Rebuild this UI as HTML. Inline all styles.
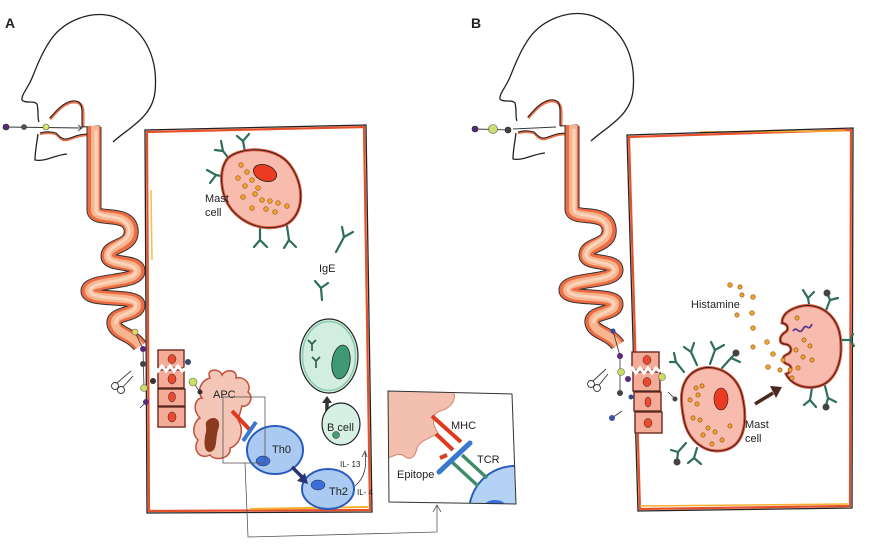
<!DOCTYPE html>
<html><head><meta charset="utf-8"><style>
html,body{margin:0;padding:0;background:#fff;}
svg{display:block;}
text{font-family:"Liberation Sans",sans-serif;fill:#222;}
</style></head><body>
<svg width="875" height="549" viewBox="0 0 875 549" xmlns="http://www.w3.org/2000/svg">
<rect width="875" height="549" fill="#fff"/>
<defs>
<clipPath id="ins"><path d="M388,391 L512,394 L516,504 L389,502 Z"/></clipPath>
<g id="hg">
 <path d="M113,142 C128,128 152,118 155,92 C158,62 148,30 115,17 C90,9 64,22 52,38 C42,52 37,66 32,78 C28,88 21,95 22,100 C25,104 34,100 37,104 C39,112 37,117 39,122" fill="none" stroke="#222" stroke-width="1.3"/>
 <path d="M38,134 C37,142 35,152 35,160 C45,162 55,155 67,154" fill="none" stroke="#222" stroke-width="1.3"/>
 <path d="M50,119 C58,110 63,104 72,102 C80,101 83,106 83,112 L83,127" fill="none" stroke="#ec7048" stroke-width="3"/>
 <path d="M50,118 C58,109 63,103 72,101 C80,100 82,105 82,111 L82,127" fill="none" stroke="#222" stroke-width="1.1"/>
 <path d="M40,134 C48,132 52,133 56,134 C60,138 63,142 70,139 C76,137 80,135 88,135" fill="none" stroke="#ec7048" stroke-width="2.5"/>
 <path d="M40,133 C48,131 52,132 56,133 C60,137 63,141 70,138 C76,136 80,134 88,134" fill="none" stroke="#222" stroke-width="1.1"/>
 <path d="M82,127 L100,126" stroke="#222" stroke-width="1.1"/>
 <!-- gut -->
 <path d="M94,127 L94,210 C94,222 128,210 131,229 C134,248 108,244 108,256 C108,266 138,260 138,271 C138,284 88,279 88,291 C88,302 138,294 138,305 C138,316 112,312 114,324 C116,334 132,334 140,346" fill="none" stroke="#333" stroke-width="15" stroke-linejoin="round"/>
 <path d="M94,126 L94,210 C94,222 128,210 131,229 C134,248 108,244 108,256 C108,266 138,260 138,271 C138,284 88,279 88,291 C88,302 138,294 138,305 C138,316 112,312 114,324 C116,334 132,334 140,346" fill="none" stroke="#ee6c44" stroke-width="13" stroke-linejoin="round"/>
 <path d="M95,126 L95,210 C95,221 127,211 130,229 C132,246 108,244 108,256 C108,266 137,261 137,271 C137,284 89,279 89,291 C89,302 137,294 137,305 C137,316 113,312 115,324 C117,334 132,334 140,346" fill="none" stroke="#f7b690" stroke-width="8" stroke-linejoin="round"/>
 <path d="M96,130 L96,210 C96,220 126,212 129,229 C131,244 108,244 108,256 C108,265 136,262 136,271 C136,283 90,280 90,291 C90,301 136,295 136,305 C136,315 114,313 116,324" fill="none" stroke="#fbd4bc" stroke-width="3" stroke-linejoin="round"/>
</g>
</defs>

<!-- Panel labels -->
<text x="5" y="28" font-size="14" font-weight="bold">A</text>
<text x="471" y="28" font-size="14" font-weight="bold">B</text>

<use href="#hg"/>
<use href="#hg" transform="translate(478,-1)"/>

<!-- mouth particles A -->
<line x1="6" y1="127" x2="82" y2="128" stroke="#333" stroke-width="0.9"/>
<path d="M78,125 L82,128 L78,131" fill="none" stroke="#333" stroke-width="0.8"/>
<circle cx="6" cy="127" r="3" fill="#5b2a7a" stroke="#222" stroke-width="0.6"/>
<circle cx="24" cy="127" r="2.5" fill="#555" stroke="#222" stroke-width="0.6"/>
<circle cx="46" cy="127" r="3" fill="#d6e86a" stroke="#555" stroke-width="0.6"/>
<!-- mouth particles B -->
<line x1="475" y1="129" x2="510" y2="130" stroke="#333" stroke-width="0.9"/>
<line x1="513" y1="129" x2="556" y2="127" stroke="#333" stroke-width="0.9"/>
<circle cx="475" cy="129" r="3" fill="#5b2a7a" stroke="#222" stroke-width="0.6"/>
<circle cx="493" cy="129" r="4.5" fill="#c8e070" stroke="#555" stroke-width="0.6"/>
<circle cx="508" cy="130" r="3" fill="#444" stroke="#222" stroke-width="0.6"/>

<!-- Box A -->
<path d="M147,132 L364,127 L370,510 L149,511 Z" fill="none" stroke="#e8502a" stroke-width="2.2"/>
<line x1="250" y1="509" x2="368" y2="507" stroke="#f5b030" stroke-width="2"/>
<line x1="151" y1="190" x2="152" y2="260" stroke="#f5c040" stroke-width="1.5"/>
<path d="M145,130 L366,125 L372,512 L147,513 Z" fill="none" stroke="#222" stroke-width="1.3"/>

<!-- Box B -->
<path d="M629,137 L851,130 L850,506 L640,509 Z" fill="none" stroke="#e8502a" stroke-width="2.2"/>
<line x1="700" y1="132" x2="845" y2="131" stroke="#f5b030" stroke-width="1.5"/>
<line x1="640" y1="506" x2="848" y2="504" stroke="#f5b030" stroke-width="1.5"/>
<path d="M627,135 L853,128 L852,508 L638,511 Z" fill="none" stroke="#222" stroke-width="1.3"/>

<!-- ========== Panel A cells ========== -->
<g stroke="#2f6e58" stroke-width="2.2" fill="none" stroke-linecap="round">
 <path d="M230,160 L223,151 M223,151 L215,150 M223,151 L221,141"/>
 <path d="M245,152 L243,141 M243,141 L237,136 M243,141 L249,134"/>
 <path d="M226,177 L216,175 M216,175 L207,170 M216,175 L210,183"/>
 <path d="M260,227 L260,240 M260,240 L254,247 M260,240 L267,247"/>
 <path d="M287,226 L289,240 M289,240 L284,248 M289,240 L296,247"/>
 <path d="M336,252 L344,237 M344,237 L342,227 M344,237 L353,232"/>
 <path d="M322,300 L321,288 M321,288 L315,281 M321,288 L328,283"/>
</g>
<path d="M228,158 C240,147 275,145 290,165 C305,185 305,215 285,225 C265,232 245,225 232,210 C220,195 218,170 228,158 Z" fill="#f7bcae" stroke="#e0553a" stroke-width="3"/>
<path d="M228,158 C240,147 275,145 290,165 C305,185 305,215 285,225 C265,232 245,225 232,210 C220,195 218,170 228,158 Z" fill="none" stroke="#222" stroke-width="0.9"/>
<ellipse cx="265" cy="173" rx="12" ry="8" transform="rotate(20 265 173)" fill="#ec3a22" stroke="#222" stroke-width="0.8"/>
<g fill="#f2a42a" stroke="#9a5a20" stroke-width="0.7">
 <circle cx="241" cy="165" r="2.3"/><circle cx="238" cy="178" r="2.3"/><circle cx="245" cy="186" r="2.3"/>
 <circle cx="252" cy="180" r="2.3"/><circle cx="243" cy="197" r="2.3"/><circle cx="255" cy="194" r="2.3"/>
 <circle cx="262" cy="200" r="2.3"/><circle cx="270" cy="201" r="2.3"/><circle cx="278" cy="203" r="2.3"/>
 <circle cx="287" cy="206" r="2.3"/><circle cx="266" cy="209" r="2.3"/><circle cx="252" cy="208" r="2.3"/>
 <circle cx="258" cy="188" r="2.3"/><circle cx="247" cy="172" r="2.3"/><circle cx="275" cy="212" r="2.3"/>
</g>
<text x="205" y="202" font-size="11">Mast</text>
<text x="205" y="216" font-size="11">cell</text>
<text x="319" y="272" font-size="11">IgE</text>

<!-- Plasma cell -->
<ellipse cx="329" cy="356" rx="29" ry="37" fill="#d2eee0" stroke="#222" stroke-width="1.2"/>
<ellipse cx="329" cy="356" rx="26.5" ry="34.5" fill="none" stroke="#8accad" stroke-width="1.5"/>
<ellipse cx="341" cy="362" rx="9" ry="17" fill="#3f9a74" stroke="#222" stroke-width="0.8" transform="rotate(8 341 362)"/>
<g stroke="#2a5a48" stroke-width="1.6" fill="none">
 <path d="M312,351 L312,344 M312,344 L308,340 M312,344 L316,340"/>
 <path d="M316,368 L316,361 M316,361 L312,357 M316,361 L320,357"/>
</g>
<path d="M327,412 L327,402" stroke="#333" stroke-width="3.5"/>
<path d="M322,403 L327,396 L332,403 Z" fill="#333"/>
<ellipse cx="341" cy="424" rx="19" ry="21" fill="#d6f0e3" stroke="#222" stroke-width="1.2"/>
<circle cx="336" cy="435" r="3.5" fill="#4a9a74" stroke="#222" stroke-width="0.5"/>
<text x="327" y="431" font-size="11">B cell</text>

<!-- APC -->
<path d="M210,378 C205,368 220,368 222,375 C226,368 238,370 236,378 C245,376 252,385 248,392 C255,398 248,408 242,406 L238,420 C245,430 240,445 230,448 C232,458 215,462 210,455 C200,460 192,450 198,440 C190,432 195,420 200,418 C192,410 195,398 202,398 C196,390 202,380 210,378 Z" fill="#f3c6b8" stroke="#c0503a" stroke-width="1.5"/>
<path d="M208,420 C215,415 222,420 218,430 C215,440 218,450 210,452 C203,452 204,440 206,432 C207,426 204,423 208,420 Z" fill="#8a3a1e"/>
<text x="213" y="398" font-size="11">APC</text>
<line x1="232" y1="411" x2="250" y2="430" stroke="#e03a1e" stroke-width="4"/>
<line x1="243" y1="441" x2="256" y2="422" stroke="#3a78d0" stroke-width="4"/>
<ellipse cx="275" cy="450" rx="28" ry="24" fill="#aacaf2" stroke="#2a5cc0" stroke-width="2"/>
<ellipse cx="263" cy="461" rx="7" ry="5" fill="#3a6ed8" stroke="#223" stroke-width="0.5"/>
<text x="272" y="453" font-size="11">Th0</text>
<ellipse cx="328" cy="489" rx="26" ry="20" fill="#aacaf2" stroke="#2a5cc0" stroke-width="2"/>
<ellipse cx="318" cy="485" rx="7" ry="5" fill="#3a6ed8" stroke="#223" stroke-width="0.5"/>
<text x="329" y="495" font-size="11">Th2</text>
<line x1="292" y1="467" x2="302" y2="477" stroke="#2a3470" stroke-width="3.5"/>
<path d="M297,481 L308,484 L305,473 Z" fill="#2a3470"/>
<text x="340" y="467" font-size="8">IL- 13</text>
<text x="357" y="495" font-size="8">IL- 4</text>
<path d="M355,486 C365,478 367,465 365,453" fill="none" stroke="#333" stroke-width="0.8"/>
<path d="M362,457 L365,451 L367,457" fill="none" stroke="#333" stroke-width="0.8"/>

<!-- Epithelium A -->
<g fill="#f4ac98" stroke="#d84a30" stroke-width="1.5">
 <rect x="158" y="350" width="26" height="18"/><rect x="158" y="370" width="26" height="18"/>
 <rect x="158" y="389" width="27" height="17"/><rect x="158" y="407" width="27" height="20"/>
</g>
<g fill="none" stroke="#222" stroke-width="0.8">
 <rect x="158" y="350" width="26" height="18"/><rect x="158" y="370" width="26" height="18"/>
 <rect x="158" y="389" width="27" height="17"/><rect x="158" y="407" width="27" height="20"/>
</g>
<polyline points="150,369 154,366 158,371 162,366 166,371 170,366 174,371 178,366 182,371 186,368" fill="none" stroke="#fff" stroke-width="3"/>
<g fill="#ec4a30" stroke="#222" stroke-width="0.5">
 <ellipse cx="172" cy="359" rx="4" ry="4.5"/><ellipse cx="172" cy="379" rx="4" ry="5"/>
 <ellipse cx="172" cy="397" rx="3.5" ry="5"/><ellipse cx="172" cy="417" rx="4" ry="5"/>
</g>
<line x1="143" y1="349" x2="144" y2="388" stroke="#333" stroke-width="0.8"/>
<line x1="146" y1="402" x2="140" y2="408" stroke="#333" stroke-width="0.8"/>
<line x1="135" y1="332" x2="143" y2="349" stroke="#333" stroke-width="0.8"/>
<line x1="193" y1="382" x2="200" y2="392" stroke="#333" stroke-width="0.8"/>
<circle cx="135" cy="332" r="3" fill="#e6d860" stroke="#666" stroke-width="0.6"/>
<circle cx="143" cy="349" r="3" fill="#5b2a7a"/>
<circle cx="143" cy="364" r="3" fill="#444"/>
<circle cx="144" cy="388" r="3.5" fill="#c8e060" stroke="#666" stroke-width="0.6"/>
<circle cx="146" cy="402" r="3" fill="#5b2a7a"/>
<circle cx="153" cy="381" r="3" fill="#333"/>
<circle cx="188" cy="362" r="3" fill="#334a70"/>
<circle cx="193" cy="382" r="4" fill="#c8e060" stroke="#666" stroke-width="0.6"/>
<circle cx="200" cy="392" r="2.5" fill="#333"/>
<g fill="none" stroke="#333" stroke-width="0.9">
 <circle cx="115" cy="386" r="3.5"/><circle cx="121" cy="390" r="3.5"/>
 <line x1="117" y1="383" x2="131" y2="371"/><line x1="123" y1="387" x2="133" y2="376"/>
</g>

<!-- Connector -->
<rect x="223" y="397" width="42" height="66" fill="none" stroke="#555" stroke-width="0.8"/>
<path d="M245,463 L248,537 L437,532 L437,506" fill="none" stroke="#555" stroke-width="0.8"/>
<path d="M433,512 L437,505 L441,512" fill="none" stroke="#555" stroke-width="0.8"/>

<!-- Inset -->
<g clip-path="url(#ins)">
 <circle cx="515" cy="512" r="46" fill="#b4d2f4" stroke="#2a5cc0" stroke-width="2"/>
 <ellipse cx="495" cy="505" rx="10" ry="5" fill="#3a6ed8"/>
 <path d="M386,388 L452,390 C458,398 452,408 440,411 C431,414 432,424 438,433 C432,438 420,440 417,448 C415,458 410,461 404,456 C399,452 394,456 388,458 Z" fill="#f3c0b0" stroke="#d8806a" stroke-width="1"/>
</g>
<line x1="432" y1="416" x2="461" y2="442" stroke="#e03a1e" stroke-width="4"/>
<line x1="436" y1="434" x2="453" y2="450" stroke="#e03a1e" stroke-width="4"/>
<line x1="440" y1="458" x2="447" y2="455" stroke="#e03a1e" stroke-width="4"/>
<line x1="452" y1="462" x2="478" y2="486" stroke="#3f8c6a" stroke-width="3.5"/>
<line x1="462" y1="455" x2="487" y2="478" stroke="#3f8c6a" stroke-width="3.5"/>
<line x1="439" y1="472" x2="470" y2="443" stroke="#3a78d0" stroke-width="5" stroke-linecap="round"/>
<text x="451" y="429" font-size="11">MHC</text>
<text x="477" y="463" font-size="11">TCR</text>
<text x="397" y="478" font-size="11">Epitope</text>
<path d="M388,391 L512,394 L516,504 L389,502 Z" fill="none" stroke="#333" stroke-width="1"/>

<!-- ========== Panel B ========== -->
<g fill="#f4ac98" stroke="#d84a30" stroke-width="1.5">
 <rect x="632" y="352" width="27" height="18"/><rect x="633" y="372" width="27" height="19"/>
 <rect x="634" y="392" width="27" height="19"/><rect x="635" y="412" width="27" height="21"/>
</g>
<g fill="none" stroke="#222" stroke-width="0.8">
 <rect x="632" y="352" width="27" height="18"/><rect x="633" y="372" width="27" height="19"/>
 <rect x="634" y="392" width="27" height="19"/><rect x="635" y="412" width="27" height="21"/>
</g>
<polyline points="628,371 632,368 636,373 640,368 644,373 648,368 652,373 656,368 660,372" fill="none" stroke="#fff" stroke-width="3"/>
<g fill="#ec4a30" stroke="#222" stroke-width="0.5">
 <ellipse cx="647" cy="360" rx="4" ry="4.5"/><ellipse cx="647" cy="382" rx="4" ry="4.5"/>
 <ellipse cx="648" cy="402" rx="3" ry="5"/><ellipse cx="648" cy="423" rx="4" ry="4.5"/>
</g>
<line x1="613" y1="331" x2="620" y2="356" stroke="#333" stroke-width="0.8"/>
<line x1="620" y1="356" x2="620" y2="393" stroke="#333" stroke-width="0.8"/>
<line x1="612" y1="418" x2="622" y2="411" stroke="#333" stroke-width="0.8"/>
<line x1="668" y1="392" x2="675" y2="399" stroke="#333" stroke-width="0.8"/>
<circle cx="613" cy="331" r="2.5" fill="#334a90"/>
<circle cx="620" cy="356" r="3" fill="#5b2a7a"/>
<circle cx="621" cy="372" r="3.5" fill="#c8e060" stroke="#666" stroke-width="0.6"/>
<circle cx="628" cy="379" r="3" fill="#5b2a7a"/>
<circle cx="620" cy="393" r="3" fill="#444"/>
<circle cx="631" cy="397" r="2.5" fill="#334a90"/>
<circle cx="612" cy="418" r="3" fill="#3a56a8"/>
<circle cx="662" cy="377" r="3.5" fill="#c8e060" stroke="#666" stroke-width="0.6"/>
<circle cx="675" cy="399" r="2.5" fill="#444"/>
<g fill="none" stroke="#333" stroke-width="0.9">
 <circle cx="591" cy="384" r="3.5"/><circle cx="597" cy="388" r="3.5"/>
 <line x1="593" y1="381" x2="606" y2="369"/><line x1="599" y1="385" x2="608" y2="374"/>
</g>

<g stroke="#2f6e58" stroke-width="2.2" fill="none" stroke-linecap="round">
 <path d="M684,372 L676,362 M676,362 L670,362 M676,362 L674,353"/>
 <path d="M697,365 L691,352 M691,352 L684,347 M691,352 L694,343"/>
 <path d="M710,364 L715,350 M715,350 L711,342 M715,350 L724,345"/>
 <path d="M722,368 L731,358 M731,358 L736,353 M731,358 L740,362"/>
 <path d="M686,443 L678,452 M678,452 L671,450 M678,452 L677,462"/>
 <path d="M697,448 L694,458 M694,458 L688,463 M694,458 L701,464"/>
</g>
<circle cx="736" cy="353" r="3.5" fill="#444"/>
<circle cx="677" cy="462" r="3.5" fill="#444"/>
<path d="M690,375 C705,360 735,368 742,395 C748,420 745,445 725,450 C705,455 688,440 684,420 C680,400 680,385 690,375 Z" fill="#f7bcae" stroke="#e0553a" stroke-width="3"/>
<path d="M690,375 C705,360 735,368 742,395 C748,420 745,445 725,450 C705,455 688,440 684,420 C680,400 680,385 690,375 Z" fill="none" stroke="#222" stroke-width="0.9"/>
<ellipse cx="721" cy="399" rx="7" ry="11" fill="#ec3a22" stroke="#222" stroke-width="0.6"/>
<g fill="#f2a42a" stroke="#9a5a20" stroke-width="0.7">
 <circle cx="696" cy="388" r="2.1"/><circle cx="702" cy="386" r="2.1"/><circle cx="690" cy="400" r="2.1"/>
 <circle cx="697" cy="404" r="2.1"/><circle cx="693" cy="418" r="2.1"/><circle cx="700" cy="420" r="2.1"/>
 <circle cx="708" cy="428" r="2.1"/><circle cx="703" cy="435" r="2.1"/><circle cx="715" cy="432" r="2.1"/>
 <circle cx="722" cy="440" r="2.1"/><circle cx="730" cy="426" r="2.1"/><circle cx="712" cy="444" r="2.1"/>
 <circle cx="698" cy="395" r="2.1"/>
</g>
<text x="745" y="428" font-size="11">Mast</text>
<text x="745" y="442" font-size="11">cell</text>
<line x1="755" y1="404" x2="773" y2="393" stroke="#4a2a20" stroke-width="3.5"/>
<path d="M770,386 L782,387 L776,398 Z" fill="#4a2a20"/>

<g stroke="#2f6e58" stroke-width="2.2" fill="none" stroke-linecap="round">
 <path d="M810,310 L808,298 M808,298 L803,290 M808,298 L814,292"/>
 <path d="M825,313 L830,300 M830,300 L827,293 M830,300 L838,298"/>
 <path d="M840,340 L850,340 M850,340 L853,334 M850,340 L854,346"/>
 <path d="M812,388 L810,400 M810,400 L804,405 M810,400 L816,407"/>
 <path d="M825,386 L828,398 M828,398 L826,406 M828,398 L836,402"/>
</g>
<circle cx="827" cy="293" r="3.5" fill="#444"/>
<circle cx="826" cy="407" r="3.5" fill="#444"/>
<path d="M795,308 C815,300 836,312 840,335 C844,360 836,384 815,387 C800,389 790,382 786,374 C792,372 793,366 787,364 C781,362 782,356 788,354 C794,350 790,344 784,344 C779,343 779,337 784,333 C790,330 788,324 782,323 C782,316 787,311 795,308 Z" fill="#f7bcae" stroke="#e0553a" stroke-width="3"/>
<path d="M795,308 C815,300 836,312 840,335 C844,360 836,384 815,387 C800,389 790,382 786,374 C792,372 793,366 787,364 C781,362 782,356 788,354 C794,350 790,344 784,344 C779,343 779,337 784,333 C790,330 788,324 782,323 C782,316 787,311 795,308 Z" fill="none" stroke="#222" stroke-width="0.9"/>
<path d="M793,331 C797,325 799,336 803,329 C807,322 808,333 812,324" fill="none" stroke="#5a3a8a" stroke-width="1.8"/>
<g fill="#f2a42a" stroke="#9a5a20" stroke-width="0.7">
 <circle cx="797" cy="318" r="2.1"/><circle cx="804" cy="340" r="2.1"/><circle cx="796" cy="350" r="2.1"/>
 <circle cx="803" cy="357" r="2.1"/><circle cx="798" cy="368" r="2.1"/><circle cx="812" cy="360" r="2.1"/>
 <circle cx="792" cy="378" r="2.1"/><circle cx="810" cy="346" r="2.1"/>
</g>
<text x="691" y="308" font-size="11">Histamine</text>
<g fill="#f2a42a" stroke="#9a5a20" stroke-width="0.7">
 <circle cx="730" cy="285" r="2.3"/><circle cx="740" cy="287" r="2.1"/><circle cx="742" cy="295" r="2.1"/>
 <circle cx="753" cy="297" r="2.3"/><circle cx="752" cy="313" r="2.3"/><circle cx="737" cy="315" r="2.1"/>
 <circle cx="753" cy="328" r="2.3"/><circle cx="767" cy="342" r="2.3"/><circle cx="753" cy="347" r="2.1"/>
 <circle cx="773" cy="354" r="2.3"/><circle cx="783" cy="360" r="2.1"/><circle cx="768" cy="367" r="2.3"/>
 <circle cx="780" cy="370" r="2.1"/><circle cx="790" cy="370" r="2.1"/>
</g>
</svg>
</body></html>
